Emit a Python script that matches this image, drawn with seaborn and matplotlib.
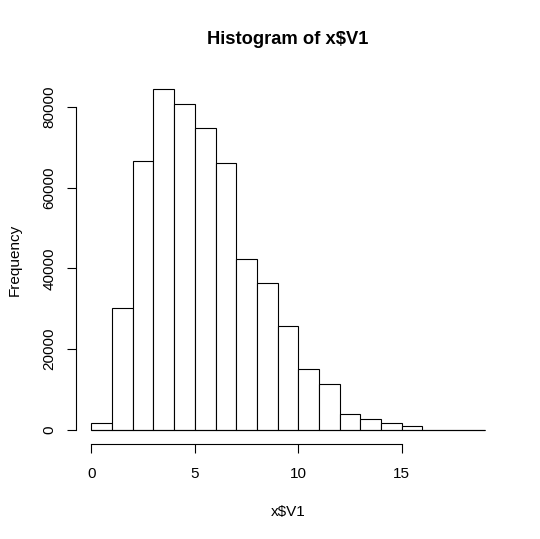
import numpy as np
import matplotlib
matplotlib.use("Agg")
import matplotlib.pyplot as plt
import seaborn as sns

# bins de ancho 1, de 0 a 19
bin_edges = list(range(0, 20))
frecuencias = [1700, 30100, 66700, 84400, 80800, 74700, 66200, 42400, 36500,
               25700, 15200, 11300, 3900, 2650, 1650, 1000, 0, 0, 0]
x_ticks = [0, 5, 10, 15]
y_ticks = [0, 20000, 40000, 60000, 80000]

sns.set_style("white")
plt.rcParams['font.family'] = ['Liberation Sans', 'DejaVu Sans']
plt.rcParams['text.color'] = 'black'
plt.rcParams['axes.labelcolor'] = 'black'

centros = np.array(bin_edges[:-1]) + 0.5

fig = plt.figure(figsize=(5.4, 5.39), dpi=100)
ax = fig.add_axes([0.140, 0.177, 0.7865, 0.683])

sns.histplot(x=centros, weights=frecuencias, bins=bin_edges, ax=ax,
             color="white", edgecolor="black", linewidth=0.8, alpha=1)
# línea base para los bins vacíos (como hace R)
ax.hlines(0, bin_edges[0], bin_edges[-1], color="black", linewidth=0.8)

ax.set_xlim(-0.76, 19.76)
ax.set_ylim(-3376, 87776)

for lado in ["top", "right"]:
    ax.spines[lado].set_visible(False)
ax.spines["left"].set_bounds(0, 80000)
ax.spines["bottom"].set_bounds(0, 15)
for lado in ["left", "bottom"]:
    ax.spines[lado].set_color("black")
    ax.spines[lado].set_linewidth(0.8)

ax.set_xticks(x_ticks)
ax.set_yticks(y_ticks)
ax.set_xticklabels([str(v) for v in x_ticks])
ax.set_yticklabels([str(v) for v in y_ticks], rotation=90, va="center")
ax.tick_params(axis="both", direction="out", length=6.5, width=0.8,
               color="black", labelsize=11, labelcolor="black",
               bottom=True, left=True)
ax.tick_params(axis="x", pad=10)
ax.tick_params(axis="y", pad=7.5)

ax.set_xlabel("x$V1", fontsize=11, va="center", color="black")
ax.xaxis.set_label_coords(0.5, -0.186)
ax.set_ylabel("Frequency", fontsize=11, va="center", color="black")
ax.yaxis.set_label_coords(-0.1427, 0.5)
ax.set_title("Histogram of x$V1", fontsize=13.2, fontweight="bold",
             color="black", y=1.097, va="center", pad=0)

fig.savefig("out.png", dpi=100)
